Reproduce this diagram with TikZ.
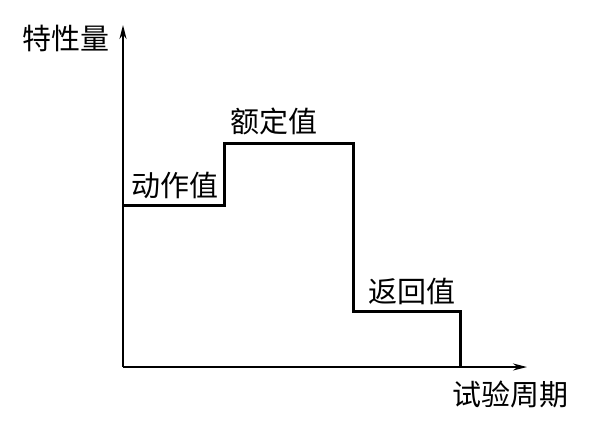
\documentclass[tikz,border=0pt]{standalone}
\usepackage{fontspec}
\newfontfamily\cjk{Noto Sans CJK SC}
\usetikzlibrary{arrows.meta}
\begin{document}
\begin{tikzpicture}[x=1pt,y=-1pt,
  lbl/.style={inner sep=0pt,font=\cjk\fontsize{29}{31}\selectfont},
  axis/.style={line width=2pt,-{Stealth[length=14pt,width=7pt]}},
  curve/.style={line width=3pt,line join=miter}]
\useasboundingbox (0,0) rectangle (604,424);
\coordinate (o) at (123,367);
\coordinate (ytip) at (123,25);
\coordinate (xtip) at (527,367);
\draw[axis] (o) -- (ytip);
\draw[axis] (o) -- (xtip);
\coordinate (p0) at (123,205);
\coordinate (p1) at (224,205);
\coordinate (p2) at (224,143);
\coordinate (p3) at (353,143);
\coordinate (p4) at (353,311);
\coordinate (p5) at (460,311);
\coordinate (p6) at (460,367);
\draw[curve] (p0) -- (p1) -- (p2) -- (p3) -- (p4) -- (p5) -- (p6);
\node[lbl] (ylab) at (66,38) {特性量};
\node[lbl] (dz) at (175,185) {动作值};
\node[lbl] (ed) at (274,121) {额定值};
\node[lbl] (fh) at (412,291) {返回值};
\node[lbl] (xlab) at (510,394) {试验周期};
\end{tikzpicture}
\end{document}
